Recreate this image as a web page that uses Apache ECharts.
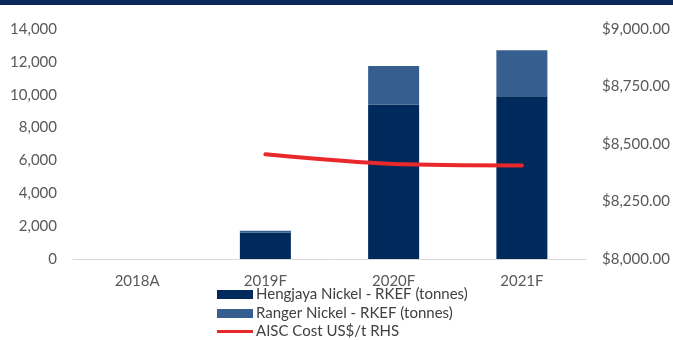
<!DOCTYPE html>
<html><head><meta charset="utf-8">
<script src="https://cdn.jsdelivr.net/npm/echarts@6/dist/echarts.min.js"></script>
<style>html,body{margin:0;padding:0;background:#fff}#c{width:673px;height:340px}</style>
</head><body><div id="c"></div>
<script>
const categories = ['2018A', '2019F', '2020F', '2021F'];
const hengjaya = [null, 1600, 9400, 9900];
const ranger = [null, 120, 2350, 2800];
const aisc = [null, 8455, 8413, 8407];
const leftTicks = { min: 0, max: 14000, interval: 2000 };
const rightTicks = { min: 8000, max: 9000, interval: 250 };
const seriesNames = ['Hengjaya Nickel - RKEF (tonnes)', 'Ranger Nickel - RKEF (tonnes)', 'AISC Cost US$/t RHS'];

const font = 'Lato';
const grey = '#595959';
const legendText = { fontFamily: font, fontSize: 15, color: '#404040', padding: [0, 0, 0, -2] };
function legendFor(name, top, h) {
  return { orient: 'vertical', left: 217, top: top, padding: 0, itemWidth: 36, itemHeight: h,
    textStyle: legendText, data: [{ name: name, icon: 'rect' }] };
}
const chart = echarts.init(document.getElementById('c'));
chart.setOption({
  animation: false,
  textStyle: { fontFamily: font },
  graphic: [{ type: 'rect', shape: { x: 0, y: 0, width: 673, height: 5 }, style: { fill: '#0b2a5b' } }],
  grid: { left: 73, right: 87, top: 29, bottom: 81 },
  legend: [legendFor(seriesNames[0], 287, 9), legendFor(seriesNames[1], 306, 9), legendFor(seriesNames[2], 324, 3)],
  xAxis: {
    type: 'category', data: categories,
    axisLine: { lineStyle: { color: '#d9d9d9', width: 1 } },
    axisTick: { show: false },
    axisLabel: { color: grey, fontSize: 15, margin: 15, fontFamily: font }
  },
  yAxis: [{
    type: 'value', min: leftTicks.min, max: leftTicks.max, interval: leftTicks.interval,
    splitLine: { show: false },
    axisLabel: { color: grey, fontSize: 15, margin: 16, fontFamily: font,
      formatter: v => v.toLocaleString('en-US') }
  }, {
    type: 'value', min: rightTicks.min, max: rightTicks.max, interval: rightTicks.interval,
    splitLine: { show: false },
    axisLabel: { color: grey, fontSize: 15, margin: 16, fontFamily: font,
      formatter: v => '$' + v.toLocaleString('en-US', { minimumFractionDigits: 2, maximumFractionDigits: 2 }) }
  }],
  series: [{
    name: seriesNames[0], type: 'bar', stack: 'n', data: hengjaya,
    barWidth: 51, itemStyle: { color: '#012a5c' }
  }, {
    name: seriesNames[1], type: 'bar', stack: 'n', data: ranger,
    barWidth: 51, itemStyle: { color: '#365f8f' }
  }, {
    name: seriesNames[2], type: 'line', yAxisIndex: 1, data: aisc,
    smooth: 0.3, symbol: 'none', lineStyle: { color: '#e8282b', width: 4, cap: 'round' },
    itemStyle: { color: '#e8282b' }
  }]
});
</script></body></html>
